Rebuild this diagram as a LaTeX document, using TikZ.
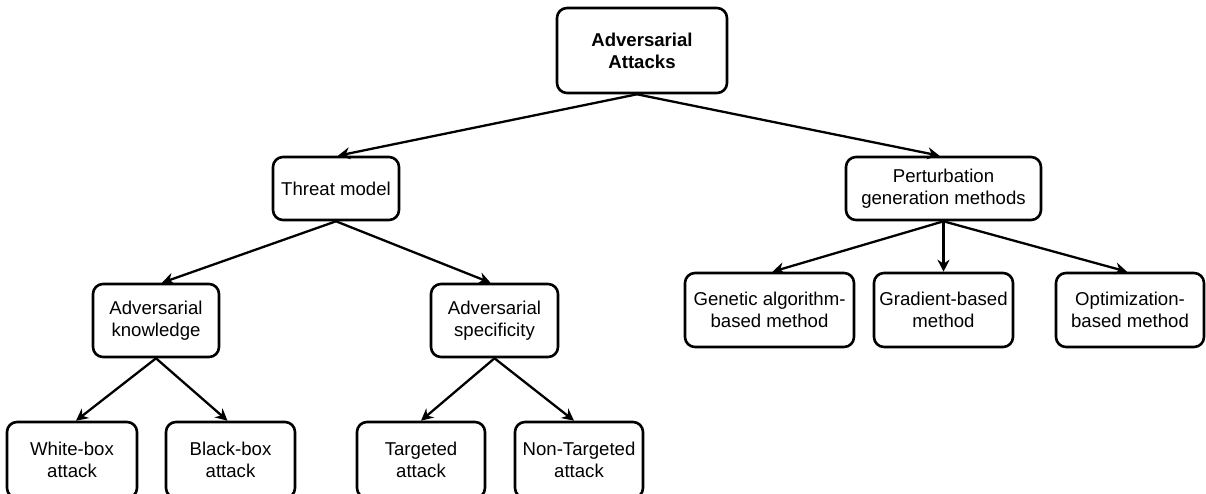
\documentclass[tikz,border=0pt]{standalone}
\usepackage{fontspec}
\setmainfont{Liberation Sans}
\usetikzlibrary{arrows.meta}
\begin{document}
\begin{tikzpicture}[x=1pt,y=-1pt,
  box/.style={draw=black, line width=2.6pt, rounded corners=10pt, fill=white,
    align=center, inner sep=0pt, font=\fontsize{18.6}{22}\selectfont},
  conn/.style={line width=2.3pt, -{Stealth[length=12pt,width=12pt,inset=4pt]}}]
\clip (0,0) rectangle (1206,493);
\useasboundingbox (0,0) rectangle (1206,493);
\node[box, minimum width=170pt, minimum height=85pt] (root) at (642,50.5) {\bfseries Adversarial\\\bfseries Attacks};
\node[box, minimum width=126pt, minimum height=63pt] (threat) at (336,188.5) {Threat model};
\node[box, minimum width=195pt, minimum height=63pt] (pert) at (943.5,188.5) {Perturbation\\generation methods};
\node[box, minimum width=126pt, minimum height=73pt] (know) at (156,320.5) {Adversarial\\knowledge};
\node[box, minimum width=127pt, minimum height=73pt] (spec) at (494.5,320.5) {Adversarial\\specificity};
\node[box, minimum width=169pt, minimum height=74pt] (gen) at (769.5,310) {Genetic algorithm-\\based method};
\node[box, minimum width=139pt, minimum height=74pt] (grad) at (943.5,310) {Gradient-based\\method};
\node[box, minimum width=148pt, minimum height=74pt] (opt) at (1130,310) {Optimization-\\based method};
\node[box, minimum width=130pt, minimum height=76pt] (white) at (72,460) {White-box\\attack};
\node[box, minimum width=129pt, minimum height=76pt] (black) at (230.5,460) {Black-box\\attack};
\node[box, minimum width=128pt, minimum height=76pt] (targ) at (421,460) {Targeted\\attack};
\node[box, minimum width=128pt, minimum height=76pt] (ntarg) at (579,460) {Non-Targeted\\attack};
\draw[conn] ([xshift=-5pt]root.south) -- ([xshift=2pt]threat.north);
\draw[conn] ([xshift=-5pt]root.south) -- ([xshift=-4pt]pert.north);
\draw[conn] (threat.south) -- ([xshift=6pt]know.north);
\draw[conn] (threat.south) -- ([xshift=-4pt]spec.north);
\draw[conn] (know.south) -- ([xshift=4pt]white.north);
\draw[conn] (know.south) -- ([xshift=-3pt]black.north);
\draw[conn] (spec.south) -- (targ.north);
\draw[conn] (spec.south) -- ([xshift=-5pt]ntarg.north);
\draw[conn] (pert.south) -- ([xshift=3pt]gen.north);
\draw[conn] (pert.south) -- (grad.north);
\draw[conn] (pert.south) -- ([xshift=-3pt]opt.north);
\end{tikzpicture}
\end{document}
